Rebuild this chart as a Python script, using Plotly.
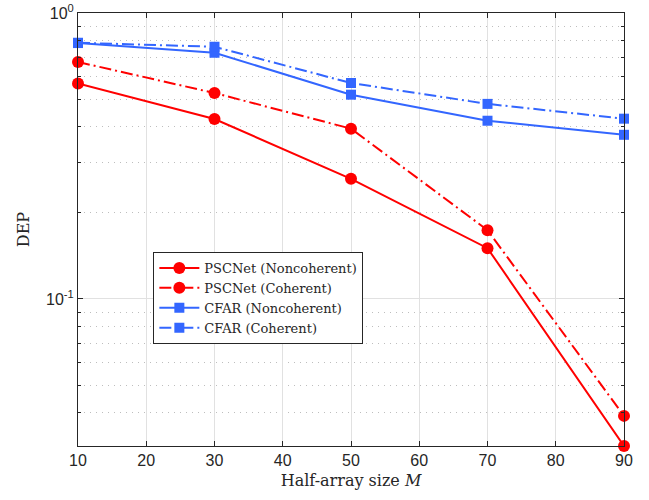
import numpy as np
import plotly.graph_objects as go

# Half-array size M
M = [10, 30, 50, 70, 90]

# Detection error probability for each method
pscnet_noncoh = [0.567, 0.426, 0.263, 0.1505, 0.0306]
pscnet_coh = [0.674, 0.525, 0.394, 0.174, 0.039]
cfar_noncoh = [0.785, 0.726, 0.518, 0.420, 0.375]
cfar_coh = [0.787, 0.762, 0.569, 0.481, 0.427]

x_ticks = [10, 20, 30, 40, 50, 60, 70, 80, 90]
y_ticks = [0.1, 1]
y_ticktext = ["10<sup>-1</sup>", "10<sup>0</sup>"]
y_minor = [0.04, 0.05, 0.06, 0.07, 0.08, 0.09, 0.2, 0.3, 0.4, 0.5, 0.6, 0.7, 0.8, 0.9]

RED = "rgb(255,0,0)"
BLUE = "rgb(51,102,255)"
DASHDOT = "12px,4px,2px,4px"

series = [
    ("PSCNet (Noncoherent)", pscnet_noncoh, RED, "solid", "circle", 12),
    ("PSCNet (Coherent)", pscnet_coh, RED, DASHDOT, "circle", 12),
    ("CFAR (Noncoherent)", cfar_noncoh, BLUE, "solid", "square", 10),
    ("CFAR (Coherent)", cfar_coh, BLUE, DASHDOT, "square", 10),
]

fig = go.Figure()
for name, vals, color, dash, symbol, size in series:
    fig.add_trace(go.Scatter(
        x=M, y=vals, name=name, mode="lines+markers",
        line=dict(color=color, width=2, dash=dash),
        marker=dict(symbol=symbol, size=size, color=color),
        cliponaxis=False,
    ))

axis_common = dict(
    showline=True, linecolor="#262626", linewidth=1, mirror="allticks",
    ticks="inside", ticklen=5, tickcolor="#262626",
    tickfont=dict(family="Liberation Sans, Arial", size=16, color="#262626"),
    gridcolor="rgb(225,225,225)", gridwidth=1, zeroline=False,
    automargin=False,
)

fig.update_layout(
    width=649, height=500,
    margin=dict(l=78, r=25, t=13, b=54),
    paper_bgcolor="white", plot_bgcolor="white",
    xaxis=dict(
        range=[10, 90], tickvals=x_ticks,
        title=dict(text="Half-array size <i>M</i>", standoff=6,
                   font=dict(family="DejaVu Serif", size=16, color="#262626")),
        **axis_common,
    ),
    yaxis=dict(
        type="log", range=[np.log10(0.0306), 0],
        tickvals=y_ticks, ticktext=y_ticktext,
        minor=dict(tickvals=y_minor, showgrid=True, griddash="1px,5px",
                   gridcolor="rgb(190,190,190)", ticks="inside", ticklen=3,
                   tickcolor="#262626"),
        title=dict(text="DEP", standoff=12,
                   font=dict(family="DejaVu Serif", size=16, color="#262626")),
        **axis_common,
    ),
    legend=dict(
        x=0.138, y=0.448, xanchor="left", yanchor="top",
        bgcolor="white", bordercolor="#262626", borderwidth=1,
        font=dict(family="DejaVu Serif", size=13, color="#262626"),
        tracegroupgap=0, itemwidth=40,
    ),
    showlegend=True,
)

fig.write_html("out.html")
